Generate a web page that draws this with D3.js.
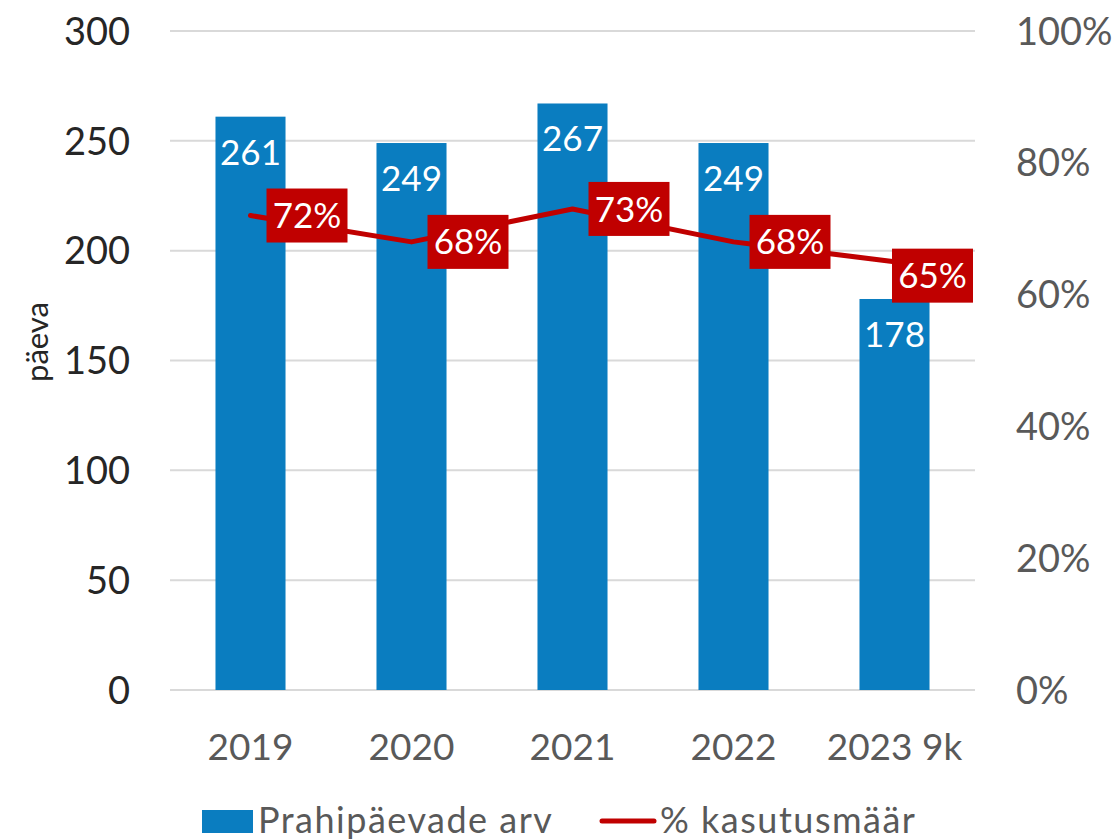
<!DOCTYPE html>
<html>
<head>
<meta charset="utf-8">
<script src="https://cdn.jsdelivr.net/npm/d3@7"></script>
<style>
  body { margin: 0; background: #fff; }
  svg text { font-family: Lato, "Open Sans", sans-serif; }
</style>
</head>
<body>
<div id="chart"></div>
<script>
var categories = ["2019", "2020", "2021", "2022", "2023 9k"];
var days = [261, 249, 267, 249, 178];
var usage = [0.72, 0.68, 0.73, 0.68, 0.65];
var leftTicks = [0, 50, 100, 150, 200, 250, 300];
var rightTicks = [0, 0.2, 0.4, 0.6, 0.8, 1.0];
var seriesNames = ["Prahipäevade arv", "% kasutusmäär"];

var width = 1114, height = 840;
var plotLeft = 170, plotRight = 975, plotTop = 31, plotBottom = 690;

var blue = "#0A7DC0", red = "#C00000", grid = "#D9D9D9";

var svg = d3.select("#chart").append("svg")
    .attr("width", width)
    .attr("height", height);

var x = d3.scaleBand()
    .domain(categories)
    .range([plotLeft, plotRight])
    .paddingInner(0.565)
    .paddingOuter(0.2825);

var y = d3.scaleLinear().domain([0, 300]).range([plotBottom, plotTop]);
var y2 = d3.scaleLinear().domain([0, 1]).range([plotBottom, plotTop]);

function cx(i) { return x(categories[i]) + x.bandwidth() / 2; }

// gridlines
svg.append("g").selectAll("line")
    .data(leftTicks)
  .enter().append("line")
    .attr("x1", plotLeft).attr("x2", plotRight)
    .attr("y1", function(d) { return y(d); })
    .attr("y2", function(d) { return y(d); })
    .style("stroke", grid)
    .style("stroke-width", 2);

// left axis labels
svg.append("g").selectAll("text")
    .data(leftTicks)
  .enter().append("text")
    .attr("x", 130)
    .attr("y", function(d) { return y(d); })
    .attr("dy", "0.36em")
    .attr("text-anchor", "end")
    .style("font-size", "38px")
    .style("fill", "#262626")
    .text(function(d) { return d; });

// right axis labels
svg.append("g").selectAll("text")
    .data(rightTicks)
  .enter().append("text")
    .attr("x", 1016)
    .attr("y", function(d) { return y2(d); })
    .attr("dy", "0.36em")
    .style("font-size", "38px")
    .style("fill", "#595959")
    .text(function(d) { return d3.format(".0%")(d); });

// y title
svg.append("text")
    .attr("transform", "translate(48,342) rotate(-90)")
    .attr("text-anchor", "middle")
    .style("font-size", "31px")
    .style("fill", "#262626")
    .text("päeva");

// bars
svg.append("g").selectAll("rect")
    .data(days)
  .enter().append("rect")
    .attr("x", function(d, i) { return x(categories[i]); })
    .attr("y", function(d) { return y(d); })
    .attr("width", x.bandwidth())
    .attr("height", function(d) { return y(0) - y(d); })
    .style("fill", blue);

svg.append("g").selectAll("text")
    .data(days)
  .enter().append("text")
    .attr("x", function(d, i) { return cx(i); })
    .attr("y", function(d) { return y(d) + 48; })
    .attr("text-anchor", "middle")
    .style("font-size", "35px")
    .style("fill", "#fff")
    .text(function(d) { return d; });

// category labels
svg.append("g").selectAll("text")
    .data(categories)
  .enter().append("text")
    .attr("x", function(d, i) { return cx(i); })
    .attr("y", 760)
    .attr("text-anchor", "middle")
    .style("font-size", "37px")
    .style("fill", "#595959")
    .text(function(d) { return d; });

// line
var line = d3.line()
    .x(function(d, i) { return cx(i); })
    .y(function(d) { return y2(d); });

svg.append("path")
    .datum(usage)
    .attr("d", line)
    .style("fill", "none")
    .style("stroke", red)
    .style("stroke-width", 5)
    .style("stroke-linejoin", "round")
    .style("stroke-linecap", "round");

// line labels (right of point, pushed back inside the chart if they overflow)
var boxW = 81, boxH = 54, boxMaxRight = 973;
var lab = svg.append("g").selectAll("g")
    .data(usage)
  .enter().append("g")
    .attr("transform", function(d, i) {
        var bx = cx(i) + 16, by = y2(d);
        if (bx + boxW > boxMaxRight) {
            bx = boxMaxRight - boxW;
            by = by + 14;
        }
        return "translate(" + bx + "," + by + ")";
    });

lab.append("rect")
    .attr("x", 0).attr("y", -boxH / 2)
    .attr("width", boxW).attr("height", boxH)
    .style("fill", red);

lab.append("text")
    .attr("x", boxW / 2)
    .attr("dy", "0.36em")
    .attr("text-anchor", "middle")
    .style("font-size", "35px")
    .style("fill", "#fff")
    .text(function(d) { return d3.format(".0%")(d); });

// legend
var legend = svg.append("g");
legend.append("rect")
    .attr("x", 202).attr("y", 810)
    .attr("width", 51).attr("height", 23)
    .style("fill", blue);
legend.append("text")
    .attr("x", 258).attr("y", 833)
    .style("font-size", "36px")
    .style("letter-spacing", "1.5px")
    .style("fill", "#595959")
    .text(seriesNames[0]);
legend.append("line")
    .attr("x1", 602).attr("x2", 654)
    .attr("y1", 821).attr("y2", 821)
    .style("stroke", red)
    .style("stroke-width", 5)
    .style("stroke-linecap", "round");
legend.append("text")
    .attr("x", 660).attr("y", 833)
    .style("font-size", "36px")
    .style("letter-spacing", "1.5px")
    .style("fill", "#595959")
    .text(seriesNames[1]);
</script>
</body>
</html>
